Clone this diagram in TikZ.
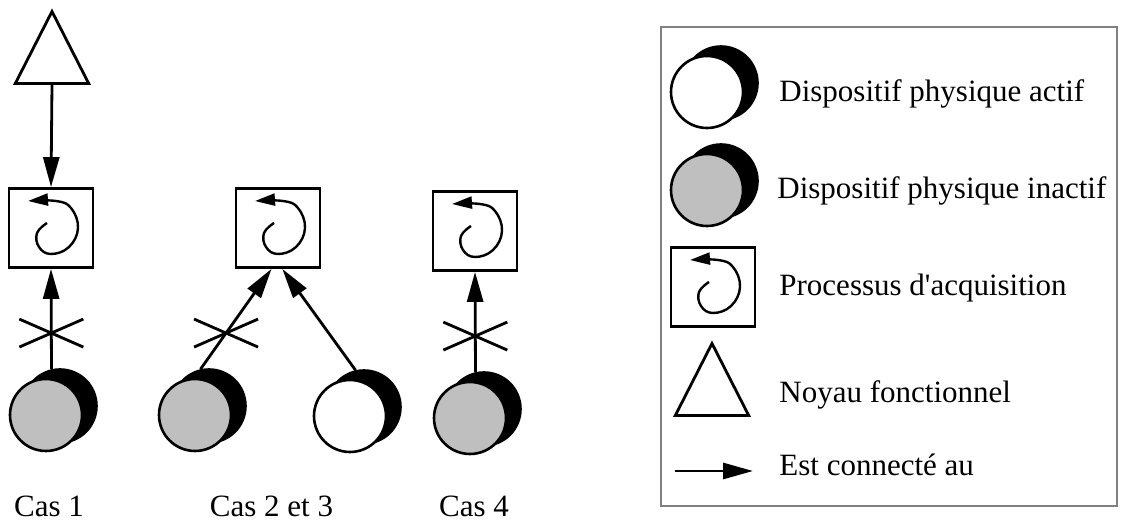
\documentclass[tikz,border=0pt]{standalone}
\usepackage{fontspec}
\setmainfont{Liberation Serif}
\usetikzlibrary{arrows.meta,shapes.geometric}

\tikzset{
  ombre/.style={circle, fill=black, draw=black, line width=0.8pt, minimum size=37pt, inner sep=0pt},
  actif/.style={circle, fill=white, draw=black, line width=1.3pt, minimum size=36pt, inner sep=0pt},
  inactif/.style={actif, fill=black!25},
  noyau/.style={isosceles triangle, isosceles triangle apex angle=54, shape border rotate=90,
    draw, line width=1.4pt, minimum width=36pt, minimum height=36pt, inner sep=0pt},
  spire/.style={line width=1.2pt, -{Triangle[length=10pt,width=6pt]}},
  acquis/.style={rectangle, draw, line width=1.4pt, minimum width=42pt, minimum height=39.5pt, inner sep=0pt},
  connect/.style={line width=1.4pt, -{Triangle[length=15pt,width=8pt]}},
  texte/.style={font=\fontsize{15.5}{18}\selectfont, inner sep=0pt},
  cadre/.style={draw=black!50, line width=1.2pt}
}

% croix sur une connexion coupee
\newcommand{\croix}[1]{\draw[line width=1.4pt] ([shift={(-32,-14)}]#1) -- ([shift={(32,14)}]#1)
  ([shift={(-32,14)}]#1) -- ([shift={(32,-14)}]#1);}
% spirale dans un processus d'acquisition
\newcommand{\spirale}[1]{\draw[spire, shift={(#1.center)}] plot[smooth, tension=0.7]
  coordinates {(-4,-5) (-14,5) (-12,19) (0,26) (18,19) (27,0) (20,-20) (5,-27) (-23,-27)};}

\begin{document}
\begin{tikzpicture}[x=0.5pt,y=-0.5pt]
\useasboundingbox (0,0) rectangle (1123,522);

% les quatre cas
\node[noyau] (nf) at (52,61) {};
\node[acquis] (p1) at (51,228) {};
\node[acquis] (p2) at (278,228) {};
\node[acquis] (p4) at (475,231) {};
\spirale{p1}
\spirale{p2}
\spirale{p4}

\node[ombre] (d1b) at (60,406) {};
\node[inactif] (d1) at (46,415) {};
\node[ombre] (d2b) at (209,406) {};
\node[inactif] (d2) at (195,415) {};
\node[ombre] (d3b) at (364,407) {};
\node[actif] (d3) at (350,416) {};
\node[ombre] (d4b) at (484,409) {};
\node[inactif] (d4) at (470,418) {};

\draw[connect] (nf.south) -- (p1.north);
\draw[connect] (d1b.103) -- coordinate[pos=0.36] (k1) (p1.south);
\croix{k1}
\draw[connect] (d2b.103) -- coordinate[pos=0.36] (k2) (p2.-99);
\croix{k2}
\draw[connect] (d3b.103) -- (p2.-84);
\draw[connect] (d4b.103) -- coordinate[pos=0.36] (k4) (p4.south);
\croix{k4}

\node[texte, anchor=base] (c1) at (49,517) {Cas 1};
\node[texte, anchor=base] (c2) at (271.5,517) {Cas 2 et 3};
\node[texte, anchor=base] (c4) at (474,517) {Cas 4};

% legende
\draw[cadre] (661,27) rectangle (1117,506);
\node[ombre] (lab) at (721,83) {};
\node[actif] (la) at (707,92) {};
\node[ombre] (lib) at (721,181) {};
\node[inactif] (li) at (707,190) {};
\node[acquis] (lp) at (713,287) {};
\spirale{lp}
\node[noyau] (ln) at (712,393) {};
\coordinate (lf1) at (675,471);
\coordinate (lf2) at (753,471);
\draw[connect] (lf1) -- (lf2);

\node[texte, anchor=base west] (t1) at (779,102) {Dispositif physique actif};
\node[texte, anchor=base west] (t2) at (777,199) {Dispositif physique inactif};
\node[texte, anchor=base west] (t3) at (779,296) {Processus d\textquotesingle acquisition};
\node[texte, anchor=base west] (t4) at (779,403) {Noyau fonctionnel};
\node[texte, anchor=base west] (t5) at (779,476) {Est connecté au};
\end{tikzpicture}
\end{document}
